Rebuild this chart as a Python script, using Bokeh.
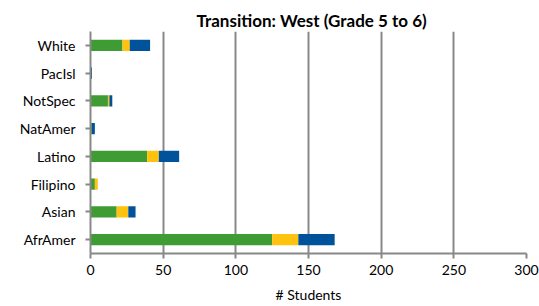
from bokeh.plotting import figure
from bokeh.models import FactorRange, Range1d, FixedTicker
from bokeh.embed import file_html
from bokeh.resources import INLINE

categories = ["AfrAmer", "Asian", "Filipino", "Latino", "NatAmer", "NotSpec", "PacIsl", "White"]
series_a = [125, 18, 3, 39, 1, 12, 0, 22]   # green
series_b = [18, 8, 2, 8, 0, 1, 0, 5]        # yellow
series_c = [25, 5, 0, 14, 2, 2, 1, 14]      # blue
x_ticks = [0, 50, 100, 150, 200, 250, 300]

data = dict(cat=categories, a=series_a, b=series_b, c=series_c)

p = figure(width=539, height=306, y_range=FactorRange(*categories), x_range=Range1d(0, 300),
           output_backend="svg", toolbar_location=None,
           min_border_left=90, min_border_right=13, min_border_top=31, min_border_bottom=53)
p.hbar_stack(["a", "b", "c"], y="cat", height=0.41, source=data,
             color=["#3F9C35", "#FFC20E", "#00539B"], line_color=None)

p.title.text = "Transition: West (Grade 5 to 6)"
p.title.text_font = "Lato"
p.title.text_font_size = "17px"
p.title.text_font_style = "bold"
p.title.text_color = "#000000"
p.title.align = "left"
p.title.offset = 106
p.title.standoff = 2

p.outline_line_color = None
p.ygrid.grid_line_color = None
p.xgrid.grid_line_color = "#888888"
p.xgrid.grid_line_width = 2
p.xaxis.ticker = FixedTicker(ticks=x_ticks)
p.xaxis.minor_tick_line_color = None

for ax in (p.xaxis, p.yaxis):
    ax.axis_line_color = "#888888"
    ax.axis_line_width = 2
    ax.major_tick_line_color = "#888888"
    ax.major_tick_line_width = 2
    ax.major_tick_out = 5
    ax.major_tick_in = 0
    ax.major_label_text_font = "Lato"
    ax.major_label_text_font_size = "14px"
    ax.major_label_text_color = "#000000"

p.yaxis.major_label_standoff = 10
p.xaxis.major_label_standoff = 6
p.xaxis.axis_label = "# Students"
p.xaxis.axis_label_text_font = "Lato"
p.xaxis.axis_label_text_font_size = "14px"
p.xaxis.axis_label_text_font_style = "normal"
p.xaxis.axis_label_text_color = "#000000"
p.xaxis.axis_label_standoff = 8

open("out.html", "w").write(file_html(p, INLINE))
